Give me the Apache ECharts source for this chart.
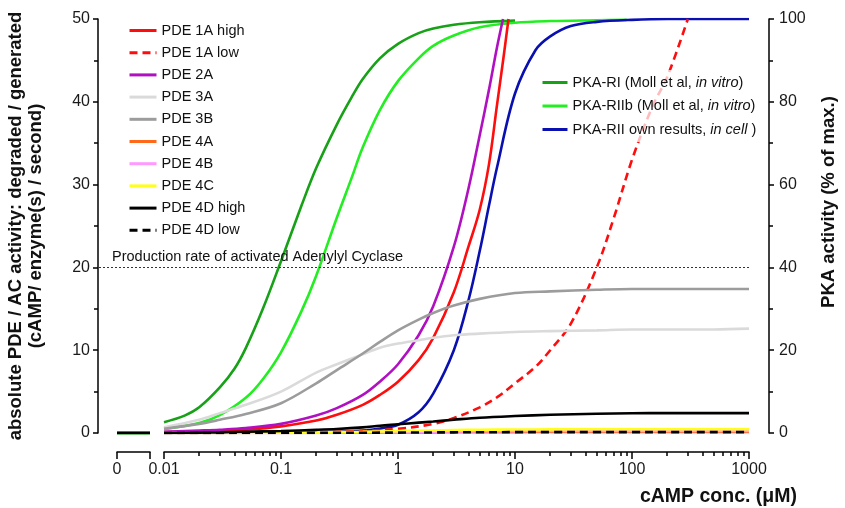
<!DOCTYPE html>
<html>
<head>
<meta charset="utf-8">
<script src="https://cdn.jsdelivr.net/npm/echarts@6/dist/echarts.min.js"></script>
<style>
  html, body { margin: 0; padding: 0; background: #fff; }
  #chart { width: 845px; height: 508px; }
</style>
</head>
<body>
<div id="chart"></div>
<script>
var FONT = '"Liberation Sans", Arial, Helvetica, sans-serif';

// x ticks (log axis, µM)
var xMajorTicks = [0.01, 0.1, 1, 10, 100, 1000];
var xMinorTicks = [0.02, 0.03, 0.04, 0.05, 0.06, 0.07, 0.08, 0.09,
                   0.2, 0.3, 0.4, 0.5, 0.6, 0.7, 0.8, 0.9,
                   2, 3, 4, 5, 6, 7, 8, 9,
                   20, 30, 40, 50, 60, 70, 80, 90,
                   200, 300, 400, 500, 600, 700, 800, 900];

// shared concentration grid (µM)
var concFull = [0.01, 0.02, 0.03, 0.05, 0.1, 0.2, 0.3, 0.5, 0.7, 1, 1.5, 2, 3, 5, 10, 20, 50, 100, 200, 500, 1000];

// PDE activities (cAMP / enzyme / s), left axis
var pde1aHighConc = [0.01, 0.02, 0.03, 0.05, 0.1, 0.2, 0.3, 0.5, 0.7, 1, 1.5, 2, 3, 4, 5, 6, 7, 8, 8.8];
var pde1aHigh     = [0.1, 0.2, 0.25, 0.4, 0.8, 1.5, 2.2, 3.4, 4.6, 6.2, 8.8, 11.5, 17, 22.5, 27, 32.5, 39.5, 45.5, 50];
var pde1aLowConc  = [0.01, 0.1, 0.3, 0.5, 1, 2, 3, 5, 7, 10, 15, 20, 30, 50, 70, 100, 150, 200, 300];
var pde1aLow      = [0, 0.05, 0.15, 0.25, 0.5, 1.1, 1.8, 3.1, 4.3, 6.0, 8.0, 10.0, 13.2, 20.0, 26, 33, 39.5, 43, 50];
var pde2aConc     = [0.01, 0.02, 0.03, 0.05, 0.1, 0.2, 0.3, 0.5, 0.7, 1, 1.5, 2, 3, 4, 5, 6, 7, 7.9];
var pde2a         = [0.15, 0.3, 0.4, 0.6, 1.1, 2.1, 3.0, 4.6, 6.2, 8.3, 11.8, 15.3, 22.5, 29.5, 36, 41.5, 46.5, 50];
var pde3a  = [0.7, 1.6, 2.4, 3.4, 5.0, 7.3, 8.3, 9.5, 10.3, 10.8, 11.2, 11.5, 11.8, 12.0, 12.2, 12.3, 12.4, 12.5, 12.5, 12.5, 12.6];
var pde3b  = [0.5, 1.1, 1.6, 2.3, 3.6, 6.0, 7.6, 9.6, 11.0, 12.4, 13.7, 14.5, 15.4, 16.2, 16.9, 17.1, 17.3, 17.4, 17.4, 17.4, 17.4];
var pde4a  = [0, 0, 0, 0, 0.01, 0.02, 0.03, 0.04, 0.05, 0.06, 0.07, 0.08, 0.09, 0.1, 0.11, 0.12, 0.12, 0.12, 0.12, 0.12, 0.12];
var pde4b  = [0, 0, 0, 0.01, 0.02, 0.04, 0.06, 0.08, 0.1, 0.12, 0.15, 0.17, 0.19, 0.21, 0.23, 0.24, 0.25, 0.25, 0.25, 0.25, 0.25];
var pde4c  = [0, 0, 0.01, 0.02, 0.04, 0.08, 0.11, 0.15, 0.19, 0.23, 0.28, 0.31, 0.35, 0.39, 0.42, 0.44, 0.45, 0.45, 0.45, 0.45, 0.45];
var pde4dHigh = [0, 0.05, 0.08, 0.15, 0.25, 0.38, 0.48, 0.68, 0.88, 1.05, 1.25, 1.38, 1.6, 1.85, 2.05, 2.2, 2.32, 2.38, 2.4, 2.4, 2.4];
var pde4dLow  = [0, 0, 0, 0, 0.01, 0.01, 0.02, 0.03, 0.04, 0.05, 0.06, 0.07, 0.08, 0.09, 0.1, 0.1, 0.11, 0.11, 0.11, 0.11, 0.11];

// PKA activity (% of max), right axis
var pkaRIConc   = [0.01, 0.015, 0.02, 0.03, 0.04, 0.05, 0.07, 0.1, 0.15, 0.2, 0.3, 0.4, 0.5, 0.7, 1, 1.5, 2, 3, 5, 10];
var pkaRI       = [2.6, 4.2, 6.2, 11, 15.5, 20.5, 30, 41.5, 55, 64, 74.5, 81, 85.5, 90.5, 94, 96.6, 97.7, 98.6, 99.2, 99.6];
var pkaRIIbConc = [0.01, 0.02, 0.03, 0.05, 0.07, 0.1, 0.15, 0.2, 0.3, 0.4, 0.5, 0.7, 1, 1.5, 2, 3, 5, 10, 20, 50, 90];
var pkaRIIb     = [1.0, 2.4, 4.3, 8.5, 13, 19.5, 29.5, 38, 52, 61.5, 69, 78, 85, 90.5, 93.5, 96, 98, 99.1, 99.5, 99.7, 99.8];
var pkaRIIConc  = [0.01, 0.1, 0.3, 0.5, 0.7, 1, 1.5, 2, 3, 4, 5, 6, 7, 10, 15, 20, 30, 50, 100, 200, 1000];
var pkaRII      = [0, 0.1, 0.3, 0.6, 1.1, 2.0, 5.0, 9.5, 20, 32, 44, 55, 64, 82, 92.5, 95.8, 98.3, 99.3, 99.8, 100, 100];

// the "0 µM" stub left of the axis break
var zeroConc = [0, 1];
var zeroVal  = [0, 0];

var acRate = 20;
var acLabel = 'Production rate of activated Adenylyl Cyclase';

var pdeNames = ['PDE 1A high', 'PDE 1A low', 'PDE 2A', 'PDE 3A', 'PDE 3B', 'PDE 4A', 'PDE 4B', 'PDE 4C', 'PDE 4D high', 'PDE 4D low'];
var pkaNames = ['PKA-RI (Moll et al, in vitro)', 'PKA-RIIb (Moll et al, in vitro)', 'PKA-RII own results, in cell )'];

function pairs(xs, ys) {
  var out = [];
  for (var i = 0; i < xs.length; i++) out.push([xs[i], ys[i]]);
  return out;
}

function curve(name, xs, ys, color, yIdx, dashed) {
  return {
    name: name,
    type: 'line',
    xAxisIndex: 0,
    yAxisIndex: yIdx,
    data: pairs(xs, ys),
    symbol: 'none',
    smooth: 0.35,
    lineStyle: { color: color, width: 2.6, type: dashed ? [8, 5] : 'solid' },
    itemStyle: { color: color }
  };
}

var axisLineStyle = { color: '#000', width: 1.5 };
var noSymbol = { color: 'rgba(0,0,0,0)', borderColor: 'rgba(0,0,0,0)', borderWidth: 0, opacity: 0 };

var myChart = echarts.init(document.getElementById('chart'));
myChart.setOption({
  animation: false,
  backgroundColor: '#fff',
  grid: [
    { left: 164, right: 96, top: 19, bottom: 75, outerBoundsMode: 'none', containLabel: false },   // main log plot
    { left: 117, width: 33, top: 19, bottom: 75, outerBoundsMode: 'none', containLabel: false },   // 0 stub
    { left: 99, right: 96, top: 19, bottom: 75, outerBoundsMode: 'none', containLabel: false }     // frame for AC line
  ],
  legend: [
    {
      data: pdeNames,
      orient: 'vertical',
      left: 123,
      top: 18,
      itemWidth: 27,
      itemHeight: 14,
      itemGap: 7.2,
      itemStyle: noSymbol,
      lineStyle: { width: 3 },
      textStyle: { fontSize: 14.5, lineHeight: 14, color: '#111', fontFamily: FONT }
    },
    {
      data: pkaNames,
      orient: 'vertical',
      left: 537,
      top: 70,
      padding: [5, 6, 5, 4],
      itemWidth: 25,
      itemHeight: 14,
      itemGap: 8.5,
      itemStyle: noSymbol,
      lineStyle: { width: 3 },
      backgroundColor: 'rgba(255,255,255,0.72)',
      formatter: function (name) {
        var m = name.match(/^(.*,)\s*(in \w+)(.*)$/);
        return '{n|' + m[1] + ' }{i|' + m[2] + '}{n|' + m[3] + '}';
      },
      textStyle: {
        fontSize: 14.5, lineHeight: 14, color: '#111', fontFamily: FONT,
        rich: {
          n: { fontSize: 14.5, color: '#111', fontFamily: FONT },
          i: { fontSize: 14.5, color: '#111', fontFamily: FONT, fontStyle: 'italic' }
        }
      }
    }
  ],
  xAxis: [
    {
      type: 'log', logBase: 10, gridIndex: 0, position: 'bottom', offset: 19,
      min: 0.01, max: 1000,
      axisLine: { show: true, onZero: false, lineStyle: axisLineStyle },
      axisTick: { show: true, length: 7, customValues: xMajorTicks, lineStyle: axisLineStyle },
      axisLabel: {
        margin: 10, customValues: xMajorTicks,
        color: '#1a1a1a', fontSize: 16, fontFamily: FONT,
        formatter: function (v) { return String(+Number(v).toPrecision(3)); }
      },
      splitLine: { show: false },
      name: 'cAMP conc. (μM)',
      nameLocation: 'end',
      nameGap: 48,
      nameTextStyle: {
        fontWeight: 'bold', fontSize: 19.5, color: '#111', fontFamily: FONT,
        align: 'right', verticalAlign: 'top', padding: [35, 0, 0, 0]
      }
    },
    {
      type: 'log', logBase: 10, gridIndex: 0, position: 'bottom', offset: 19,
      min: 0.01, max: 1000,
      axisLine: { show: false, onZero: false },
      axisTick: { show: true, length: 4, customValues: xMinorTicks, lineStyle: axisLineStyle },
      axisLabel: { show: false },
      splitLine: { show: false }
    },
    {
      type: 'value', gridIndex: 1, position: 'bottom', offset: 19,
      min: 0, max: 1, interval: 1,
      axisLine: { show: true, onZero: false, lineStyle: axisLineStyle },
      axisTick: { show: true, length: 7, lineStyle: axisLineStyle },
      axisLabel: {
        margin: 10, color: '#1a1a1a', fontSize: 16, fontFamily: FONT,
        formatter: function (v) { return v === 0 ? '0' : ''; }
      },
      splitLine: { show: false }
    },
    { type: 'value', gridIndex: 2, min: 0, max: 1, show: false }
  ],
  yAxis: [
    {
      type: 'value', gridIndex: 0, position: 'left', offset: 66,
      min: 0, max: 50, interval: 10,
      axisLine: { show: true, onZero: false, lineStyle: axisLineStyle },
      axisTick: { show: true, length: 5, lineStyle: axisLineStyle },
      minorTick: { show: true, splitNumber: 2, length: 4, lineStyle: { color: '#000', width: 1.5 } },
      axisLabel: { margin: 8, color: '#1a1a1a', fontSize: 16, fontFamily: FONT },
      splitLine: { show: false },
      name: 'absolute PDE / AC activity: degraded / generated\n(cAMP/ enzyme(s) / second)',
      nameLocation: 'middle',
      nameRotate: 90,
      nameGap: 52,
      nameTextStyle: { fontWeight: 'bold', fontSize: 18.5, lineHeight: 20, color: '#111', fontFamily: FONT }
    },
    {
      type: 'value', gridIndex: 0, position: 'right', offset: 20,
      min: 0, max: 100, interval: 20,
      axisLine: { show: true, onZero: false, lineStyle: axisLineStyle },
      axisTick: { show: true, length: 5, lineStyle: axisLineStyle },
      minorTick: { show: true, splitNumber: 2, length: 4, lineStyle: { color: '#000', width: 1.5 } },
      axisLabel: { margin: 10, color: '#1a1a1a', fontSize: 16, fontFamily: FONT },
      splitLine: { show: false },
      name: 'PKA activity (% of max.)',
      nameLocation: 'middle',
      nameRotate: 90,
      nameGap: 50,
      nameTextStyle: { fontWeight: 'bold', fontSize: 18.5, color: '#111', fontFamily: FONT, padding: [0, 0, 0, 48] }
    },
    { type: 'value', gridIndex: 1, min: 0, max: 50, show: false },
    { type: 'value', gridIndex: 2, min: 0, max: 50, show: false }
  ],
  series: [
    curve(pkaNames[0], pkaRIConc, pkaRI, '#17a117', 1),
    curve(pkaNames[1], pkaRIIbConc, pkaRIIb, '#22ee22', 1),
    curve(pkaNames[2], pkaRIIConc, pkaRII, '#0a10b0', 1),
    curve(pdeNames[0], pde1aHighConc, pde1aHigh, '#ff0d0d', 0),
    curve(pdeNames[1], pde1aLowConc, pde1aLow, '#ff0d0d', 0, true),
    curve(pdeNames[2], pde2aConc, pde2a, '#b010c0', 0),
    curve(pdeNames[3], concFull, pde3a, '#dadada', 0),
    curve(pdeNames[4], concFull, pde3b, '#9c9c9c', 0),
    curve(pdeNames[5], concFull, pde4a, '#ff6a1a', 0),
    curve(pdeNames[6], concFull, pde4b, '#ff99ff', 0),
    curve(pdeNames[7], concFull, pde4c, '#ffff1a', 0),
    curve(pdeNames[8], concFull, pde4dHigh, '#000000', 0),
    curve(pdeNames[9], concFull, pde4dLow, '#000000', 0, true),
    {
      type: 'line', xAxisIndex: 2, yAxisIndex: 2, symbol: 'none',
      data: pairs(zeroConc, zeroVal),
      lineStyle: { color: '#17a117', width: 3.5 }
    },
    {
      type: 'line', xAxisIndex: 2, yAxisIndex: 2, symbol: 'none',
      data: pairs(zeroConc, zeroVal),
      lineStyle: { color: '#000', width: 2.5 }
    },
    {
      type: 'line', xAxisIndex: 3, yAxisIndex: 3, data: [],
      markLine: {
        silent: true,
        symbol: 'none',
        data: [{ yAxis: acRate }],
        lineStyle: { color: '#333', width: 1, type: [2, 2] },
        label: {
          show: true, position: 'insideStartTop', distance: [13, 3],
          formatter: acLabel, color: '#111', fontSize: 14.5, fontFamily: FONT
        }
      }
    }
  ]
});
</script>
</body>
</html>
